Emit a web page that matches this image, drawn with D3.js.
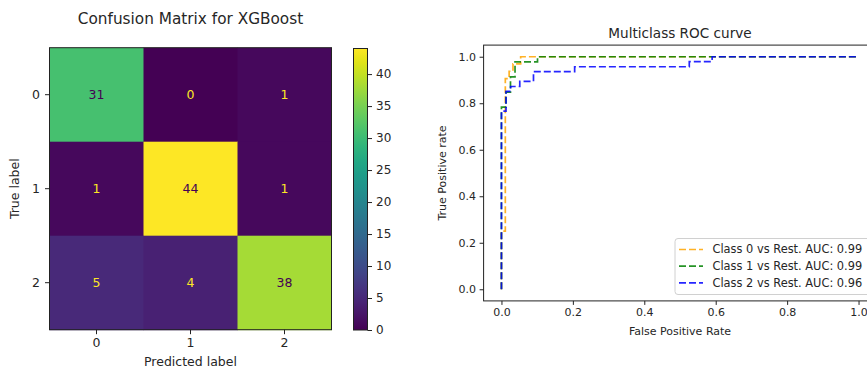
<!DOCTYPE html>
<html>
<head>
<meta charset="utf-8">
<script src="https://cdn.jsdelivr.net/npm/d3@7"></script>
<style>
  body { margin: 0; background: #fff; }
  text { font-family: "DejaVu Sans", sans-serif; fill: #262626; }
</style>
</head>
<body>
<script>
var width = 867;
var height = 369;

// confusion matrix
var classes = ["0", "1", "2"];
var matrix = [[31, 0, 1], [1, 44, 1], [5, 4, 38]];
var cbTicks = [0, 5, 10, 15, 20, 25, 30, 35, 40];

// roc curves
var rocTicks = [0, 0.2, 0.4, 0.6, 0.8, 1.0];
var rocNames = ["Class 0 vs Rest. AUC: 0.99", "Class 1 vs Rest. AUC: 0.99", "Class 2 vs Rest. AUC: 0.96"];
var rocColors = ["orange", "green", "blue"];
var fpr0 = [0, 0, 0.0108, 0.0108, 0.0215, 0.0215, 0.0323, 0.0323, 0.0538, 0.0538, 1];
var tpr0 = [0, 0.25, 0.25, 0.906, 0.906, 0.9375, 0.9375, 0.969, 0.969, 1, 1];
var fpr1 = [0, 0, 0.0127, 0.0127, 0.0253, 0.0253, 0.038, 0.038, 0.101, 0.101, 1];
var tpr1 = [0, 0.783, 0.783, 0.848, 0.848, 0.913, 0.913, 0.978, 0.978, 1, 1];
var fpr2 = [0, 0, 0.0128, 0.0128, 0.0256, 0.0256, 0.0513, 0.0513, 0.0897, 0.0897, 0.205, 0.205, 0.526, 0.526, 0.59, 0.59, 1];
var tpr2 = [0, 0.766, 0.766, 0.851, 0.851, 0.872, 0.872, 0.894, 0.894, 0.936, 0.936, 0.957, 0.957, 0.979, 0.979, 1, 1];

var svg = d3.select("body")
            .append("svg")
            .attr("width", width)
            .attr("height", height);

// ---------- confusion matrix ----------
var cx = d3.scaleBand().domain(classes).range([49.5, 331.5]);
var cy = d3.scaleBand().domain(classes).range([47.7, 329.7]);
var vmax = d3.max(matrix, function(r) { return d3.max(r); });
var color = d3.scaleSequential(d3.interpolateViridis).domain([0, vmax]);

var cells = [];
matrix.forEach(function(row, i) {
  row.forEach(function(v, j) { cells.push({ r: classes[i], c: classes[j], v: v }); });
});

svg.selectAll("rect.cell")
  .data(cells)
  .enter().append("rect")
  .attr("class", "cell")
  .attr("x", function(d) { return cx(d.c); })
  .attr("y", function(d) { return cy(d.r); })
  .attr("width", cx.bandwidth() + 0.5)
  .attr("height", cy.bandwidth() + 0.5)
  .attr("fill", function(d) { return color(d.v); });

svg.selectAll("text.cell")
  .data(cells)
  .enter().append("text")
  .attr("x", function(d) { return cx(d.c) + cx.bandwidth() / 2; })
  .attr("y", function(d) { return cy(d.r) + cy.bandwidth() / 2; })
  .attr("dy", "0.35em")
  .attr("text-anchor", "middle")
  .style("font-size", "12.5px")
  .style("fill", function(d) { return d.v > vmax / 2 ? color(0) : color(vmax); })
  .text(function(d) { return d.v; });

svg.append("rect")
  .attr("x", 49.5).attr("y", 47.7)
  .attr("width", 282).attr("height", 282)
  .attr("fill", "none").attr("stroke", "#222").attr("stroke-width", 1);

var cmX = svg.append("g").attr("transform", "translate(0,329.7)")
  .call(d3.axisBottom(cx).tickSize(4.5).tickPadding(4));
var cmY = svg.append("g").attr("transform", "translate(49.5,0)")
  .call(d3.axisLeft(cy).tickSize(4.5).tickPadding(5));
[cmX, cmY].forEach(function(g) {
  g.select(".domain").remove();
  g.selectAll("line").attr("stroke", "#222");
  g.selectAll("text").style("font-size", "12.5px").attr("fill", "#262626");
});

svg.append("text")
  .attr("x", 190.5).attr("y", 24)
  .attr("text-anchor", "middle")
  .style("font-size", "15.3px")
  .text("Confusion Matrix for XGBoost");

svg.append("text")
  .attr("x", 190.5).attr("y", 366)
  .attr("text-anchor", "middle")
  .style("font-size", "12.5px")
  .text("Predicted label");

svg.append("text")
  .attr("transform", "translate(19,188.7) rotate(-90)")
  .attr("text-anchor", "middle")
  .style("font-size", "12.5px")
  .text("True label");

// colorbar
var cb = d3.scaleLinear().domain([0, vmax]).range([330, 48.5]);
var grad = svg.append("defs").append("linearGradient")
  .attr("id", "viridis")
  .attr("x1", 0).attr("y1", 1).attr("x2", 0).attr("y2", 0);
d3.range(0, 1.0001, 0.05).forEach(function(t) {
  grad.append("stop").attr("offset", t).attr("stop-color", d3.interpolateViridis(t));
});
svg.append("rect")
  .attr("x", 353.5).attr("y", cb(vmax))
  .attr("width", 14).attr("height", cb(0) - cb(vmax))
  .attr("fill", "url(#viridis)")
  .attr("stroke", "#222").attr("stroke-width", 1);
var cbAxis = svg.append("g").attr("transform", "translate(367.5,0)")
  .call(d3.axisRight(cb).tickValues(cbTicks).tickSize(4.5).tickPadding(4));
cbAxis.select(".domain").remove();
cbAxis.selectAll("line").attr("stroke", "#222");
cbAxis.selectAll("text").style("font-size", "12px").attr("fill", "#262626");

// ---------- roc ----------
var x = d3.scaleLinear().domain([-0.05, 1.05]).range([483.6, 876.4]);
var y = d3.scaleLinear().domain([-0.05, 1.05]).range([300.9, 45.1]);

svg.append("rect")
  .attr("x", x(-0.05)).attr("y", y(1.05))
  .attr("width", x(1.05) - x(-0.05)).attr("height", y(-0.05) - y(1.05))
  .attr("fill", "none").attr("stroke", "#222").attr("stroke-width", 1);

var xAxis = svg.append("g").attr("transform", "translate(0," + y(-0.05) + ")")
  .call(d3.axisBottom(x).tickValues(rocTicks).tickFormat(d3.format(".1f")).tickSize(4).tickPadding(3.5));
var yAxis = svg.append("g").attr("transform", "translate(" + x(-0.05) + ",0)")
  .call(d3.axisLeft(y).tickValues(rocTicks).tickFormat(d3.format(".1f")).tickSize(4).tickPadding(3.5));
[xAxis, yAxis].forEach(function(g) {
  g.select(".domain").remove();
  g.selectAll("line").attr("stroke", "#222");
  g.selectAll("text").style("font-size", "11px").attr("fill", "#262626");
});

var rocData = [[fpr0, tpr0], [fpr1, tpr1], [fpr2, tpr2]];
var line = d3.line()
  .x(function(d) { return x(d[0]); })
  .y(function(d) { return y(d[1]); });

rocData.forEach(function(c, i) {
  svg.append("path")
    .datum(d3.zip(c[0], c[1]))
    .attr("d", line)
    .attr("fill", "none")
    .attr("stroke", rocColors[i])
    .attr("stroke-opacity", 0.85)
    .attr("stroke-width", 1.7)
    .attr("stroke-dasharray", "7,3");
});

svg.append("text")
  .attr("x", 680).attr("y", 38)
  .attr("text-anchor", "middle")
  .style("font-size", "13.6px")
  .text("Multiclass ROC curve");

svg.append("text")
  .attr("x", 680).attr("y", 335)
  .attr("text-anchor", "middle")
  .style("font-size", "11px")
  .text("False Positive Rate");

svg.append("text")
  .attr("transform", "translate(446,173) rotate(-90)")
  .attr("text-anchor", "middle")
  .style("font-size", "11px")
  .text("True Positive rate");

// legend
var legend = svg.append("g");
legend.append("rect")
  .attr("x", 675).attr("y", 238.5)
  .attr("width", 197).attr("height", 56)
  .attr("rx", 3)
  .attr("fill", "#fff").attr("fill-opacity", 0.8)
  .attr("stroke", "#d0d0d0");
rocNames.forEach(function(name, i) {
  var ly = 249.5 + i * 16.7;
  legend.append("line")
    .attr("x1", 679).attr("x2", 703)
    .attr("y1", ly).attr("y2", ly)
    .attr("stroke", rocColors[i])
    .attr("stroke-opacity", 0.85)
    .attr("stroke-width", 1.7)
    .attr("stroke-dasharray", "7,3");
  legend.append("text")
    .attr("x", 712.5).attr("y", ly)
    .attr("dy", "0.35em")
    .style("font-size", "11.4px")
    .text(name);
});
</script>
</body>
</html>
